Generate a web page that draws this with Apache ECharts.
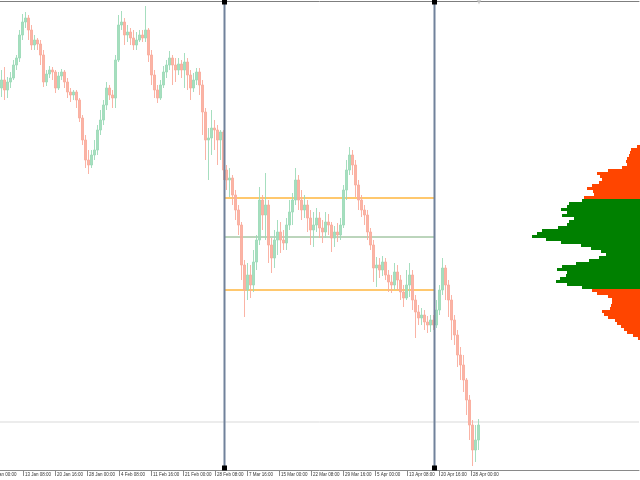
<!DOCTYPE html>
<html>
<head>
<meta charset="utf-8">
<script src="https://cdn.jsdelivr.net/npm/echarts@6/dist/echarts.min.js"></script>
<style>
html, body { margin: 0; padding: 0; background: #fff; }
#chart { width: 640px; height: 480px; }
</style>
</head>
<body>
<div id="chart"></div>
<script>
// price path, one candle per 3 H4 bars: [open, close, low, high]
const candles = [
  [379,387,370,397],[387,377,367,400],[377,385,369,390],[385,389,379,395],[389,402,387,407],
  [402,409,397,412],[409,432,405,437],[432,445,427,453],[445,449,439,455],[449,437,427,452],
  [437,422,417,442],[422,427,417,432],[427,423,417,429],[423,412,402,427],[412,385,380,417],
  [385,393,381,397],[393,397,389,401],[397,395,387,400],[395,379,374,397],[379,391,377,395],
  [391,395,387,398],[395,385,379,397],[385,375,369,389],[375,372,365,379],[372,375,367,377],
  [375,367,359,377],[367,349,345,369],[349,327,322,352],[327,307,299,332],[307,302,293,317],
  [302,312,299,317],[312,317,307,327],[317,337,312,342],[337,347,332,357],[347,362,342,367],
  [362,379,357,385],[379,372,367,382],[372,369,359,377],[369,407,359,412],[407,442,405,452],
  [442,445,437,456],[445,432,422,449],[432,435,425,442],[435,429,422,439],[429,422,417,437],
  [422,427,417,435],[427,432,425,437],[432,429,425,437],[429,437,425,461],[437,412,405,439],
  [412,392,382,417],[392,377,369,397],[377,369,364,382],[369,382,367,387],[382,395,379,401],
  [395,402,389,407],[402,409,397,416],[409,402,382,412],[402,397,385,409],[397,403,392,409],
  [403,397,389,407],[397,405,379,414],[405,392,377,409],[392,379,367,397],[379,387,375,394],
  [387,395,382,399],[395,382,372,399],[382,355,332,387],[355,327,307,359],[327,329,287,339],
  [329,339,312,357],[339,337,317,347],[337,327,302,342],[327,335,307,337],[335,297,287,337],
  [297,287,277,302],[287,289,270,299],[289,272,262,292],[272,257,247,277],[257,242,232,262],
  [242,202,187,245],[202,177,150,207],[177,192,167,204],[192,182,169,202],[182,205,175,217],
  [205,227,197,232],[227,267,222,280],[267,252,237,272],[252,262,227,294],[262,222,204,267],
  [222,209,194,229],[209,227,199,237],[227,235,212,247],[235,227,214,245],[227,224,217,237],
  [224,242,217,249],[242,255,237,267],[255,267,242,274],[267,287,262,299],[287,267,257,292],
  [267,257,247,277],[257,262,249,272],[262,249,235,267],[249,237,222,257],[237,242,220,255],
  [242,249,235,259],[249,239,229,255],[239,235,224,247],[235,245,229,255],[245,242,232,253],
  [242,229,215,245],[229,235,220,241],[235,232,225,244],[232,242,227,249],[242,277,239,282],
  [277,297,267,307],[297,312,292,320],[312,302,292,317],[302,282,270,307],[282,267,257,287],
  [267,257,250,272],[257,252,242,262],[252,235,227,257],[235,222,217,239],[222,199,185,227],
  [199,202,180,210],[202,197,189,209],[197,205,191,211],[205,192,187,209],[192,185,175,197],
  [185,182,174,192],[182,195,177,204],[195,187,177,202],[187,175,167,192],[175,169,160,182],
  [169,182,167,197],[182,192,170,204],[192,167,157,197],[167,155,129,172],[155,149,142,162],
  [149,152,142,159],[152,145,137,157],[145,142,134,151],[142,147,135,152],[147,142,137,152],
  [142,157,139,167],[157,177,152,182],[177,199,172,209],[199,182,167,202],[182,167,150,187],
  [167,147,127,172],[147,132,122,152],[132,112,100,137],[112,102,87,120],[102,87,75,112],
  [87,67,52,89],[67,42,27,72],[42,17,1,47],[17,27,5,42],[27,42,17,48]
];
const slotCount = 213;

// time axis, one label every 32 H4 bars; first one sits just off the left edge
const tickLabels = [
  '6 Jan 00:00', '13 Jan 08:00', '20 Jan 16:00', '28 Jan 00:00', '4 Feb 08:00',
  '11 Feb 16:00', '21 Feb 00:00', '28 Feb 08:00', '7 Mar 16:00', '15 Mar 00:00',
  '22 Mar 08:00', '29 Mar 16:00', '5 Apr 00:00', '13 Apr 08:00', '20 Apr 16:00',
  '28 Apr 00:00'
];
const firstTickBar = 23;
const lastTickBar = 471;
const tickStep = 32;

// selected range (in H4 bars) and its levels
const rangeBounds = [224.5, 434.5];
const valueAreaHigh = 269;
const pocLevel = 230;
const valueAreaLow = 177;
const alertLevel = 45;
const nowBar = 479;

// volume profile rows, top row first
const profileVolumes = [
  3, 9, 10, 11, 13, 14, 13, 18, 32, 43,
  40, 38, 41, 48, 53, 47, 46, 56, 58, 71,
  73, 79, 73, 78, 66, 71, 73, 82, 98, 103,
  108, 94, 79, 59, 49, 39, 34, 41, 51, 64,
  78, 83, 73, 74, 80, 84, 73, 58, 48, 43,
  32, 28, 28, 29, 30, 38, 36, 32, 25, 23,
  19, 16, 13, 7, 2
];
const valueAreaRows = [18, 47];

const chart = echarts.init(document.getElementById('chart'), null, { renderer: 'canvas' });

const slots = Array.from({ length: slotCount }, (_, i) => String(i));
const rows = profileVolumes.map((_, i) => String(i));

const labelFont = { fontSize: 4.5, fontFamily: 'Liberation Sans', fill: '#333' };

const vertical = rangeBounds.map(b => ({
  type: 'line',
  xAxisIndex: 1, yAxisIndex: 0,
  data: [[b, 465], [b, -1]],
  symbol: 'rect', symbolSize: 5,
  itemStyle: { color: '#000' },
  lineStyle: { color: '#71829b', width: 2 },
  silent: true, animation: false, z: 5
}));

const level = (v, color, width) => ({
  type: 'line',
  xAxisIndex: 1, yAxisIndex: 0,
  data: [[rangeBounds[0], v], [rangeBounds[1], v]],
  symbol: 'none',
  lineStyle: { color: color, width: width },
  silent: true, animation: false, z: 1
});

chart.setOption({
  animation: false,
  backgroundColor: '#fff',
  grid: [
    { left: 0, right: 1, top: 1, bottom: 10 },
    { left: 520, right: 0, top: 145, height: 195 },
    { left: firstTickBar, width: lastTickBar - firstTickBar, top: 1, bottom: 10 }
  ],
  xAxis: [
    {
      gridIndex: 0, type: 'category', data: slots, boundaryGap: true,
      axisLine: { onZero: false, lineStyle: { color: '#8a8a8a', width: 1 } },
      axisTick: { show: false }, axisLabel: { show: false }, splitLine: { show: false }
    },
    {
      gridIndex: 0, type: 'value', position: 'top', min: 0, max: 639,
      axisLine: { show: true, onZero: false, lineStyle: { color: '#7f7f7f', width: 1 } },
      axisTick: { show: false }, axisLabel: { show: false }, splitLine: { show: false }
    },
    { gridIndex: 1, type: 'value', inverse: true, min: 0, max: 120, show: false },
    {
      gridIndex: 2, type: 'value', min: firstTickBar, max: lastTickBar, interval: tickStep,
      axisLine: { show: false, onZero: false },
      axisTick: { show: true, length: 6, lineStyle: { color: '#8a8a8a' } },
      axisLabel: {
        show: true, align: 'left', margin: 2, padding: [0, 0, 0, 2],
        fontSize: 4.5, fontFamily: 'Liberation Sans', color: '#333',
        showMinLabel: true, showMaxLabel: true,
        formatter: v => tickLabels[Math.round((v - firstTickBar) / tickStep) + 1] || ''
      },
      splitLine: { show: false }
    }
  ],
  yAxis: [
    { gridIndex: 0, type: 'value', min: -3, max: 466, show: false, splitLine: { show: false } },
    { gridIndex: 1, type: 'category', inverse: true, data: rows, show: false },
    { gridIndex: 2, type: 'value', min: 0, max: 1, show: false }
  ],
  graphic: [
    {
      type: 'text', x: firstTickBar - tickStep + 2, y: 472, silent: true,
      style: Object.assign({ text: tickLabels[0] }, labelFont)
    }
  ],
  series: [
    {
      type: 'line',
      xAxisIndex: 1, yAxisIndex: 0,
      data: [[0, alertLevel], [639, alertLevel]],
      symbol: 'none',
      lineStyle: { color: '#d9d9d9', width: 1 },
      silent: true, z: 1
    },
    level(valueAreaHigh, '#ffc86e', 2),
    level(valueAreaLow, '#ffc86e', 2),
    level(pocLevel, '#78ab78', 1),
    {
      type: 'candlestick',
      xAxisIndex: 0, yAxisIndex: 0,
      data: candles,
      barWidth: 2,
      itemStyle: {
        color: '#9cdab8', color0: '#f9ac9c',
        borderColor: '#9cdab8', borderColor0: '#f9ac9c',
        borderWidth: 1, opacity: 0.9
      },
      z: 3
    },
    ...vertical,
    {
      type: 'scatter',
      xAxisIndex: 1, yAxisIndex: 0,
      data: [[nowBar, 465]],
      symbol: 'triangle', symbolRotate: 180, symbolSize: 5,
      itemStyle: { color: '#c4c4c4' },
      silent: true
    },
    {
      type: 'bar',
      xAxisIndex: 2, yAxisIndex: 1,
      data: profileVolumes,
      barWidth: '100%', barCategoryGap: '0%',
      itemStyle: {
        color: p => (p.dataIndex >= valueAreaRows[0] && p.dataIndex <= valueAreaRows[1]) ? '#008000' : '#ff4500'
      },
      silent: true
    }
  ]
});
</script>
</body>
</html>
